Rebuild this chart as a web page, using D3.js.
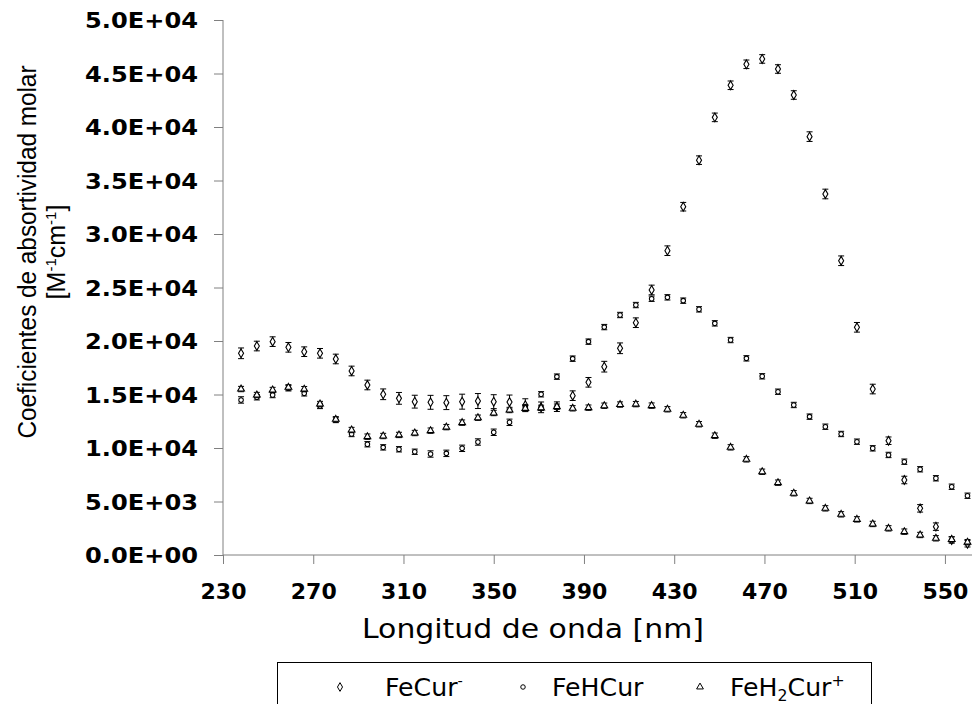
<!DOCTYPE html>
<html>
<head>
<meta charset="utf-8">
<script src="https://cdn.jsdelivr.net/npm/d3@7"></script>
<style>
  html, body { margin: 0; padding: 0; background: #fff; }
  svg { display: block; }
</style>
</head>
<body>
<svg id="chart" width="972" height="704"></svg>
<script>
// ---------- data ----------
const wavelengths = [238,245,252,259,266,273,280,287,294,301,308,315,322,329,336,343,350,357,364,371,378,385,392,399,406,413,420,427,434,441,448,455,462,469,476,483,490,497,504,511,518,525,532,539,546,553,560];

const feCur = [18850,19530,19940,19410,19000,18850,18320,17200,15890,15020,14640,14330,14270,14240,14330,14390,14330,14300,14000,13800,13860,14890,16140,17600,19320,21710,24770,28440,32550,36900,40900,43900,45860,46360,45420,42990,39100,33740,27500,21280,15510,10680,7010,4360,2650,1400,1050];
const feCurErr = [500,450,450,450,450,450,450,450,450,500,550,600,650,650,700,700,650,650,600,500,450,450,450,500,500,450,450,450,400,400,400,400,400,400,400,400,450,450,450,450,450,350,350,350,350,300,300];

const feHCur = [14490,14740,14950,15580,15110,13930,12620,11310,10350,10060,9880,9650,9440,9500,9970,10560,11470,12400,13800,15020,16670,18350,19940,21300,22430,23360,23950,24080,23770,22960,21650,20090,18380,16700,15260,14020,12930,11990,11310,10590,9970,9350,8720,8010,7170,6380,5540];
const feHCurErr = [300,250,250,250,250,250,250,250,250,250,250,250,300,300,300,300,300,300,250,250,250,250,250,250,250,250,250,250,250,250,250,250,250,250,250,250,250,250,250,250,250,250,250,250,250,250,250];

const feH2Cur = [15510,14950,15420,15670,15500,14110,12680,11680,11060,11120,11220,11400,11620,11950,12370,12830,13270,13550,13700,13750,13860,13710,13770,13950,14060,14100,13960,13620,13060,12220,11150,10060,8940,7780,6760,5770,5050,4360,3800,3330,2900,2490,2180,1870,1560,1450,1200];
const feH2CurErr = [250,250,250,250,250,250,250,250,250,250,250,250,250,250,250,250,250,250,250,250,250,250,250,250,250,250,250,250,250,250,250,250,250,250,250,250,250,250,250,250,250,250,250,250,250,250,250];

const xTickValues = [230,270,310,350,390,430,470,510,550];
const yTickValues = [0,5000,10000,15000,20000,25000,30000,35000,40000,45000,50000];
const yTickLabels = ["0.0E+00","5.0E+03","1.0E+04","1.5E+04","2.0E+04","2.5E+04","3.0E+04","3.5E+04","4.0E+04","4.5E+04","5.0E+04"];

const seriesNames = ["FeCur", "FeHCur", "FeH2Cur"];

// ---------- layout ----------
const svg = d3.select("#chart");
const x = d3.scaleLinear().domain([230, 562]).range([223, 972]);
const y = d3.scaleLinear().domain([0, 50000]).range([555, 20]);
const axisColor = "#808080";

// y axis
const yAxis = svg.append("g").attr("transform", "translate(223,0)")
  .call(d3.axisLeft(y).tickValues(yTickValues).tickSize(9).tickPadding(16)
    .tickFormat((d, i) => yTickLabels[i]));
yAxis.select(".domain").attr("stroke", axisColor).attr("d", `M0,${y(50000)}V${y(0)}`);
yAxis.selectAll(".tick line").attr("stroke", axisColor);
yAxis.selectAll(".tick text")
  .attr("font-family", "DejaVu Sans, Verdana, sans-serif")
  .attr("font-weight", "bold").attr("font-size", 21).attr("fill", "#000")
  .attr("dy", "0.36em")
  .attr("textLength", 113).attr("lengthAdjust", "spacingAndGlyphs");

// x axis
const xAxis = svg.append("g").attr("transform", "translate(0,555)")
  .call(d3.axisBottom(x).tickValues(xTickValues).tickSize(9).tickPadding(18)
    .tickFormat(d3.format("d")));
xAxis.select(".domain").attr("stroke", axisColor).attr("d", `M${x(230)},0H972`);
xAxis.selectAll(".tick line").attr("stroke", axisColor);
xAxis.selectAll(".tick text")
  .attr("font-family", "DejaVu Sans, Verdana, sans-serif")
  .attr("font-weight", "bold").attr("font-size", 22).attr("fill", "#000")
  .attr("dy", "0.76em");

// axis titles
svg.append("text")
  .attr("x", 533).attr("y", 638).attr("text-anchor", "middle")
  .attr("font-family", "DejaVu Sans, Verdana, sans-serif").attr("font-size", 27)
  .attr("textLength", 342).attr("lengthAdjust", "spacingAndGlyphs")
  .text("Longitud de onda [nm]");

const yt = svg.append("g").attr("transform", "translate(0,252) rotate(-90)");
yt.append("text").attr("x", 0).attr("y", 36).attr("text-anchor", "middle")
  .attr("font-family", "Liberation Sans, Arial, sans-serif").attr("font-size", 25)
  .attr("textLength", 373).attr("lengthAdjust", "spacingAndGlyphs")
  .text("Coeficientes de absortividad molar");
const yt2 = yt.append("text").attr("x", 0).attr("y", 65).attr("text-anchor", "middle")
  .attr("font-family", "Liberation Sans, Arial, sans-serif").attr("font-size", 25);
yt2.append("tspan").text("[M");
yt2.append("tspan").attr("font-size", 15).attr("dy", -9).text("-1");
yt2.append("tspan").attr("dy", 9).text("cm");
yt2.append("tspan").attr("font-size", 15).attr("dy", -9).text("-1");
yt2.append("tspan").attr("dy", 9).text("]");

// ---------- marks ----------
const plot = svg.append("g");
const symDiamond = d3.symbol().type(d3.symbolDiamond).size(22);
const symCircle = d3.symbol().type(d3.symbolCircle).size(16);
const symTriangle = d3.symbol().type(d3.symbolTriangle).size(20);

const series = [
  { name: seriesNames[0], vals: feCur, errs: feCurErr, sym: symDiamond },
  { name: seriesNames[1], vals: feHCur, errs: feHCurErr, sym: symCircle },
  { name: seriesNames[2], vals: feH2Cur, errs: feH2CurErr, sym: symTriangle }
];

series.forEach(s => {
  const g = plot.append("g");
  const pts = wavelengths.map((w, i) => ({ w, v: s.vals[i], e: s.errs[i] }));
  const eb = g.selectAll("g.eb").data(pts).join("g").attr("class", "eb")
    .attr("stroke", "#000").attr("stroke-width", 1);
  eb.append("line")
    .attr("x1", d => x(d.w)).attr("x2", d => x(d.w))
    .attr("y1", d => y(d.v + d.e)).attr("y2", d => y(d.v - d.e));
  eb.append("line")
    .attr("x1", d => x(d.w) - 3).attr("x2", d => x(d.w) + 3)
    .attr("y1", d => y(d.v + d.e)).attr("y2", d => y(d.v + d.e));
  eb.append("line")
    .attr("x1", d => x(d.w) - 3).attr("x2", d => x(d.w) + 3)
    .attr("y1", d => y(d.v - d.e)).attr("y2", d => y(d.v - d.e));
  g.selectAll("path.m").data(pts).join("path").attr("class", "m")
    .attr("d", s.sym)
    .attr("transform", d => `translate(${x(d.w)},${y(d.v)})`)
    .attr("fill", "#fff").attr("stroke", "#000").attr("stroke-width", 1.1);
});

// ---------- legend ----------
const lg = svg.append("g");
lg.append("rect").attr("x", 277.5).attr("y", 662.5).attr("width", 594).attr("height", 60)
  .attr("fill", "#fff").attr("stroke", "#000").attr("stroke-width", 1);
const legendItems = [
  { sym: symDiamond, mx: 340, tx: 385 },
  { sym: symCircle, mx: 523, tx: 552 },
  { sym: symTriangle, mx: 700, tx: 730 }
];
legendItems.forEach((it, i) => {
  lg.append("path").attr("d", it.sym).attr("transform", `translate(${it.mx},687)`)
    .attr("fill", "#fff").attr("stroke", "#000").attr("stroke-width", 1);
  const t = lg.append("text").attr("transform", `translate(${it.tx},696) scale(1.05,1)`)
    .attr("font-family", "DejaVu Sans, Verdana, sans-serif").attr("font-size", 24);
  if (i === 0) {
    t.append("tspan").text("FeCur");
    t.append("tspan").attr("font-size", 14).attr("dy", -10).text("-");
  } else if (i === 1) {
    t.append("tspan").text("FeHCur");
  } else {
    t.append("tspan").text("FeH");
    t.append("tspan").attr("font-size", 15).attr("dy", 5).text("2");
    t.append("tspan").attr("dy", -5).text("Cur");
    t.append("tspan").attr("font-size", 15).attr("dy", -10).text("+");
  }
});
</script>
</body>
</html>
